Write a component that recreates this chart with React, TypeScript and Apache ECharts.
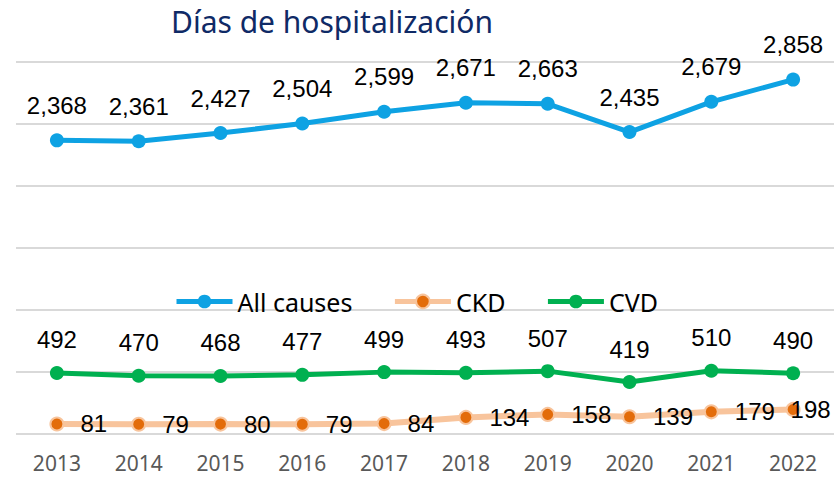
import React, { useEffect, useRef } from "react";
import * as echarts from "echarts";

const categories = ["2013", "2014", "2015", "2016", "2017", "2018", "2019", "2020", "2021", "2022"];
const allCauses = [2368, 2361, 2427, 2504, 2599, 2671, 2663, 2435, 2679, 2858];
const ckd = [81, 79, 80, 79, 84, 134, 158, 139, 179, 198];
const cvd = [492, 470, 468, 477, 499, 493, 507, 419, 510, 490];
const titleText = "Días de hospitalización";

const fmt = (p: any) => Number(p.value).toLocaleString("en-US");

export default function App() {
  const ref = useRef<HTMLDivElement>(null);
  useEffect(() => {
    if (!ref.current) return;
    const chart = echarts.init(ref.current, undefined, { renderer: "svg" });
    const labelFont = { fontFamily: "Liberation Sans", fontSize: 24, color: "#000" };
    chart.setOption({
      animation: false,
      backgroundColor: "#fff",
      title: {
        text: titleText,
        left: 171,
        top: 6,
        padding: 0,
        textStyle: { fontFamily: "Noto Sans", fontSize: 30, fontWeight: "normal", color: "#0f2a66" },
      },
      legend: {
        top: 289,
        left: 174,
        padding: 0,
        itemWidth: 56,
        itemHeight: 17,
        itemGap: 40,
        lineStyle: { width: 5 },
        textStyle: { fontFamily: "Noto Sans", fontSize: 25, color: "#000" },
        data: ["All causes", "CKD", "CVD"],
      },
      grid: { left: 16, right: -2, top: 62, bottom: 43 },
      xAxis: {
        type: "category",
        data: categories,
        boundaryGap: true,
        axisLine: { show: false },
        axisTick: { show: false },
        axisLabel: { fontFamily: "Noto Sans", fontSize: 21, color: "#595959", margin: 18 },
      },
      yAxis: {
        type: "value",
        min: 0,
        max: 3000,
        interval: 500,
        axisLabel: { show: false },
        axisLine: { show: false },
        axisTick: { show: false },
        splitLine: { lineStyle: { color: "#d9d9d9", width: 2 } },
      },
      series: [
        {
          name: "All causes",
          type: "line",
          data: allCauses,
          symbol: "circle",
          symbolSize: 14,
          lineStyle: { color: "#0ea2e3", width: 5 },
          itemStyle: { color: "#0ea2e3" },
          label: { show: true, position: "top", distance: 16, formatter: fmt, ...labelFont },
        },
        {
          name: "CKD",
          type: "line",
          data: ckd.map((v, i) =>
            i === ckd.length - 1
              ? { value: v, label: { position: "right", distance: -10 } }
              : v
          ),
          symbol: "circle",
          symbolSize: 13,
          lineStyle: { color: "#f8c49c", width: 6 },
          itemStyle: { color: "#e36c0a", borderColor: "#f8c49c", borderWidth: 2 },
          label: { show: true, position: "right", distance: 16, formatter: fmt, ...labelFont },
        },
        {
          name: "CVD",
          type: "line",
          data: cvd,
          symbol: "circle",
          symbolSize: 14,
          lineStyle: { color: "#00b050", width: 5 },
          itemStyle: { color: "#00b050" },
          label: { show: true, position: "top", distance: 14, formatter: fmt, ...labelFont },
        },
      ],
    });
    return () => chart.dispose();
  }, []);
  return (
    <div
      ref={ref}
      style={{ position: "absolute", left: 0, top: 0, width: 834, height: 477 }}
    />
  );
}
